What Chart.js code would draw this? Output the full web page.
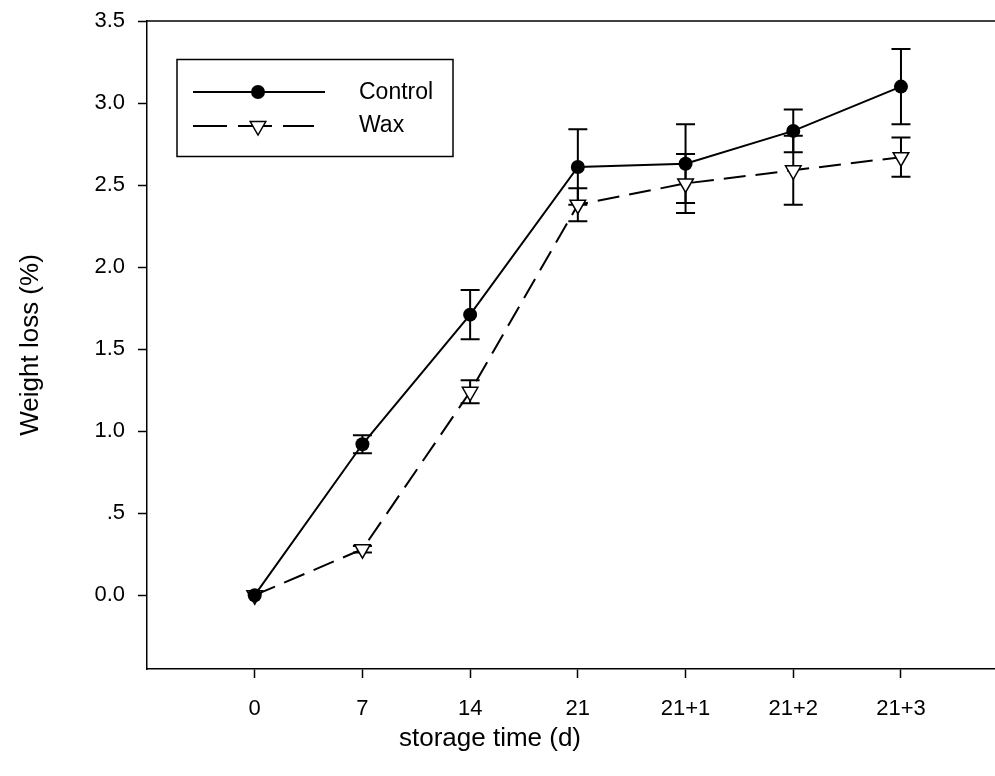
<!DOCTYPE html>
<html>
<head>
<meta charset="utf-8">
<script src="https://cdn.jsdelivr.net/npm/chart.js@4.4.1/dist/chart.umd.min.js"></script>
<style>
  html, body { margin: 0; padding: 0; background: #fff; overflow: hidden; }
  #wrap { width: 995px; height: 776px; position: relative; }
</style>
</head>
<body>
<div id="wrap"><canvas id="weightChart"></canvas></div>
<script>
// Data
const categories = ['0', '7', '14', '21', '21+1', '21+2', '21+3'];
const controlMean = [0, 0.92, 1.71, 2.61, 2.63, 2.83, 3.10];
const controlErr = [0, 0.055, 0.15, 0.23, 0.24, 0.13, 0.23];
const waxMean = [0, 0.28, 1.24, 2.38, 2.51, 2.59, 2.67];
const waxErr = [0, 0.02, 0.07, 0.10, 0.18, 0.21, 0.12];
const yTicks = [0, 0.5, 1.0, 1.5, 2.0, 2.5, 3.0, 3.5];
const yTickLabels = ['0.0', '.5', '1.0', '1.5', '2.0', '2.5', '3.0', '3.5'];

const FONT = "'Liberation Sans', Arial, sans-serif";

function toPoints(values) {
    return values.map((v, i) => ({ x: i, y: v }));
}

// Error bars, top frame line, legend and axis titles
const extras = {
    id: 'extras',
    afterLayout(chart) {
        // the plot runs off the right edge of the picture, no right frame
        const xs = chart.scales.x;
        chart.chartArea.right = chart.width;
        chart.chartArea.width = chart.chartArea.right - chart.chartArea.left;
        xs.right = chart.width;
        xs.width = xs.right - xs.left;
        xs.configure();
    },
    beforeDatasetsDraw(chart) {
        const ctx = chart.ctx;
        const xs = chart.scales.x;
        const ys = chart.scales.y;
        ctx.save();
        ctx.strokeStyle = '#000';
        ctx.lineWidth = 2;
        [[controlMean, controlErr], [waxMean, waxErr]].forEach(([mean, err]) => {
            mean.forEach((m, i) => {
                if (!err[i]) return;
                const x = xs.getPixelForValue(i);
                const yTop = ys.getPixelForValue(m + err[i]);
                const yBot = ys.getPixelForValue(m - err[i]);
                ctx.beginPath();
                ctx.moveTo(x, yTop);
                ctx.lineTo(x, yBot);
                ctx.moveTo(x - 9.5, yTop);
                ctx.lineTo(x + 9.5, yTop);
                ctx.moveTo(x - 9.5, yBot);
                ctx.lineTo(x + 9.5, yBot);
                ctx.stroke();
            });
        });
        ctx.restore();
    },
    afterDraw(chart) {
        const ctx = chart.ctx;
        const area = chart.chartArea;
        ctx.save();
        // top frame line
        ctx.strokeStyle = '#000';
        ctx.lineWidth = 1.5;
        ctx.beginPath();
        ctx.moveTo(area.left, area.top);
        ctx.lineTo(area.right, area.top);
        ctx.stroke();

        // legend box
        ctx.lineWidth = 1.5;
        ctx.strokeRect(177, 59.5, 276, 97);

        // control sample
        ctx.lineWidth = 2;
        ctx.beginPath();
        ctx.moveTo(193, 92);
        ctx.lineTo(325, 92);
        ctx.stroke();
        ctx.fillStyle = '#000';
        ctx.beginPath();
        ctx.arc(258, 92, 7, 0, Math.PI * 2);
        ctx.fill();

        // wax sample
        ctx.setLineDash([34, 11]);
        ctx.beginPath();
        ctx.moveTo(193, 126);
        ctx.lineTo(314, 126);
        ctx.stroke();
        ctx.setLineDash([]);
        const r = 9;
        ctx.fillStyle = '#fff';
        ctx.lineWidth = 1.5;
        ctx.beginPath();
        ctx.moveTo(258 - r * Math.sin(Math.PI / 3), 126 - r / 2);
        ctx.lineTo(258 + r * Math.sin(Math.PI / 3), 126 - r / 2);
        ctx.lineTo(258, 126 + r);
        ctx.closePath();
        ctx.fill();
        ctx.stroke();

        ctx.fillStyle = '#000';
        ctx.font = '23px ' + FONT;
        ctx.textAlign = 'left';
        ctx.textBaseline = 'middle';
        ctx.fillText('Control', 359, 93);
        ctx.fillText('Wax', 359, 126);

        // axis titles
        ctx.font = '26px ' + FONT;
        ctx.textAlign = 'center';
        ctx.fillText('storage time (d)', 490, 739);
        ctx.translate(31, 345);
        ctx.rotate(-Math.PI / 2);
        ctx.fillText('Weight loss (%)', 0, 0);
        ctx.restore();
    }
};

const ctx = document.getElementById('weightChart').getContext('2d');
new Chart(ctx, {
    type: 'line',
    data: {
        datasets: [{
            label: 'Control',
            data: toPoints(controlMean),
            borderColor: '#000',
            borderWidth: 2,
            pointStyle: 'circle',
            pointRadius: 7,
            pointBackgroundColor: '#000',
            pointBorderColor: '#000',
            pointBorderWidth: 0,
            tension: 0
        }, {
            label: 'Wax',
            data: toPoints(waxMean),
            borderColor: '#000',
            borderWidth: 2,
            borderDash: [22, 10],
            pointStyle: 'triangle',
            pointRotation: 180,
            pointRadius: 9,
            pointBackgroundColor: '#fff',
            pointBorderColor: '#000',
            pointBorderWidth: 1.5,
            tension: 0
        }]
    },
    options: {
        responsive: true,
        maintainAspectRatio: false,
        animation: false,
        layout: { padding: { top: 21, left: 0, right: 0, bottom: 0 } },
        plugins: {
            legend: { display: false },
            tooltip: { enabled: false }
        },
        scales: {
            x: {
                type: 'linear',
                min: -1,
                max: 6.873,
                afterBuildTicks: (scale) => {
                    scale.ticks = categories.map((c, i) => ({ value: i }));
                },
                afterFit: (scale) => {
                    scale.height = 107;
                    scale.paddingLeft = 0;
                    scale.paddingRight = 0;
                },
                ticks: {
                    color: '#000',
                    font: { family: FONT, size: 22 },
                    padding: 18,
                    maxRotation: 0,
                    autoSkip: false,
                    callback: (v) => categories[v]
                },
                grid: {
                    drawOnChartArea: false,
                    drawTicks: true,
                    tickLength: 9,
                    tickWidth: 1.5,
                    color: '#000'
                },
                border: { display: true, color: '#000', width: 1.5 }
            },
            y: {
                min: -0.45,
                max: 3.5,
                afterBuildTicks: (scale) => {
                    scale.ticks = yTicks.map((v) => ({ value: v }));
                },
                afterFit: (scale) => {
                    scale.width = 147;
                    scale.paddingTop = 0;
                    scale.paddingBottom = 0;
                },
                ticks: {
                    color: '#000',
                    font: { family: FONT, size: 22 },
                    padding: 13,
                    autoSkip: false,
                    callback: (v, i) => yTickLabels[i]
                },
                grid: {
                    drawOnChartArea: false,
                    drawTicks: true,
                    tickLength: 9,
                    tickWidth: 1.5,
                    color: '#000'
                },
                border: { display: true, color: '#000', width: 1.5 }
            }
        }
    },
    plugins: [extras]
});
</script>
</body>
</html>
